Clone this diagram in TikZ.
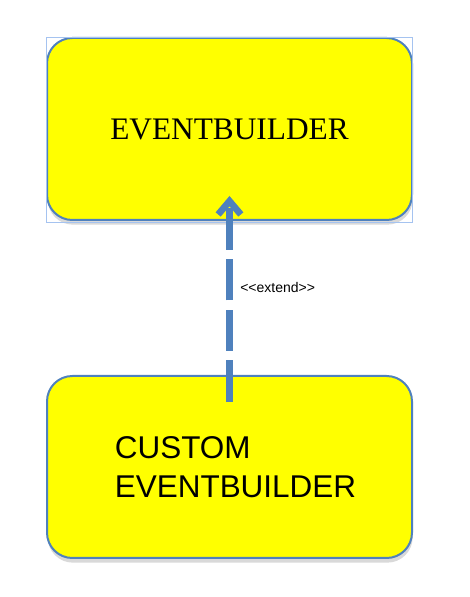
\documentclass[tikz,border=0pt]{standalone}
\usepackage{fontspec}
\setmainfont{Liberation Serif}
\setsansfont{Liberation Sans}
\usetikzlibrary{arrows.meta, shadows}
\definecolor{boxblue}{RGB}{79,129,189}
\definecolor{selblue}{RGB}{165,195,240}
\definecolor{boxfill}{RGB}{255,255,0}

\begin{document}
\begin{tikzpicture}[x=0.75pt, y=0.75pt,
  classbox/.style={draw=boxblue, line width=1.5pt, fill=boxfill, rounded corners=19pt,
    minimum width=273.75pt, minimum height=136.5pt,
    drop shadow={shadow xshift=0.5pt, shadow yshift=-3.5pt, opacity=0.3}},
  extends/.style={-{Straight Barb[length=10pt,width=17pt]}, line width=5pt, draw=boxblue,
    dash pattern=on 31pt off 7pt}]
  \useasboundingbox (0,0) rectangle (469,597);
  % base class, with its selection frame
  \node[classbox, font=\fontsize{23.5}{28}\selectfont] (builder) at (229.5,468) {EVENTBUILDER};
  \draw[selblue, line width=0.6pt] (46,375) rectangle (412,560);
  % subclass
  \node[classbox, align=left, font=\sffamily\fontsize{23.6}{29}\selectfont] (custom) at (229.5,130)
    {\hspace*{9pt}CUSTOM\\\hspace*{9pt}EVENTBUILDER};
  % extend relation
  \coordinate (from) at ([yshift=-20pt]custom.north);
  \coordinate (to) at ([yshift=18.75pt]builder.south);
  \draw[extends] (from) -- (to);
  \node[anchor=west, font=\sffamily\fontsize{10.5}{12}\selectfont, inner sep=0pt] (ext) at (240,310)
    {{<}{<}extend{>}{>}};
\end{tikzpicture}
\end{document}
